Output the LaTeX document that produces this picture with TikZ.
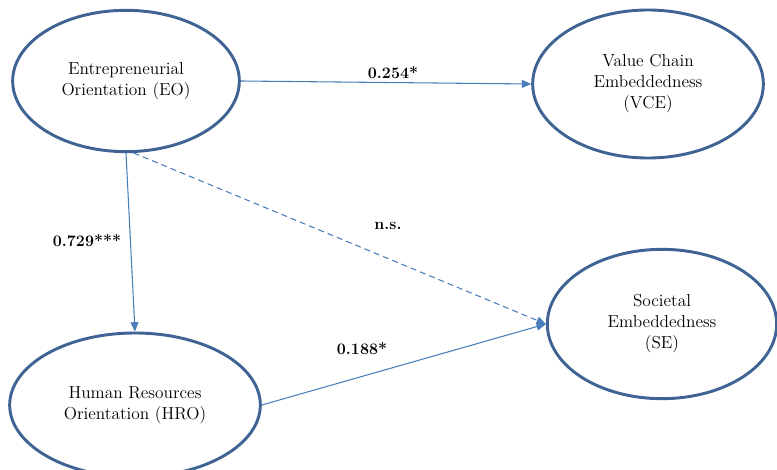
\documentclass[tikz,border=0pt]{standalone}
\usepackage{fontspec}
\usepackage{tikz}
\usetikzlibrary{shapes.geometric,arrows.meta}
\definecolor{ringblue}{HTML}{3F6493}
\definecolor{pathblue}{HTML}{4A7EBB}

\begin{document}
\begin{tikzpicture}[x=0.75pt,y=-0.75pt,
    construct/.style={ellipse,draw=ringblue,line width=2.2pt,inner sep=0pt,align=center,
      font=\fontsize{13}{15.75}\selectfont},
    coef/.style={font=\fontsize{12}{14}\selectfont\bfseries},
    >={Triangle[length=7pt,width=6pt]}]
  \useasboundingbox (0,0) rectangle (777,470);
               \node[construct, minimum width=170pt, minimum height=106pt] (EO) at (126,81) {Entrepreneurial\\Orientation (EO)};
               \node[construct, minimum width=173pt, minimum height=111pt] (VCE) at (648,84) {Value Chain\\Embeddedness\\(VCE)};
               \node[construct, minimum width=172pt, minimum height=112pt] (SE) at (662,324) {Societal\\Embeddedness\\(SE)};
               \node[construct, minimum width=188pt, minimum height=108pt] (HRO) at (135,405) {Human Resources\\Orientation (HRO)};
               \node[coef] (b_EV) at (393,73) {0.254*};
               \node[coef] (b_EH) at (87,241) {0.729***};
               \node[coef] (b_ES) at (388,226) {n.s.};
               \node[coef] (b_HS) at (362,349) {0.188*};
		\path[->,pathblue,line width=0.8pt]
			(EO.east)	edge (VCE.west)
			(EO.south)	edge (HRO.north)
			(EO.-84)	edge [dash pattern=on 4.5pt off 3pt] (SE.west)
			(HRO.east)	edge (SE.west);
            \end{tikzpicture}
\end{document}
